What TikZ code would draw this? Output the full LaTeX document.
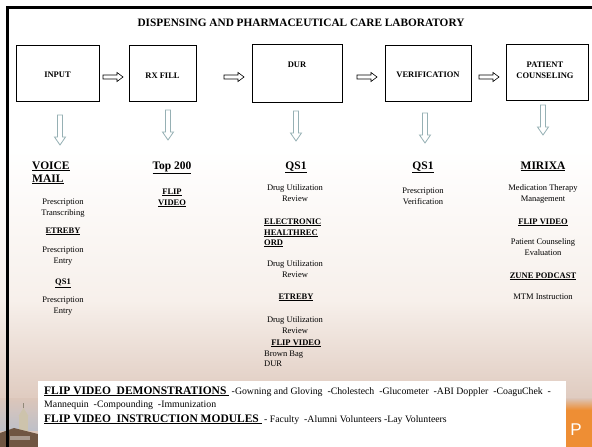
\documentclass[tikz,border=0pt]{standalone}
\usepackage{fontspec}
\setmainfont{Liberation Serif}
\newfontfamily\sansP{Liberation Sans}
\newcommand{\fsz}[1]{\fontsize{#1}{#1}\selectfont}
\definecolor{arrgray}{RGB}{150,176,180}
\definecolor{tanA}{RGB}{247,240,235}
\definecolor{tanB}{RGB}{220,198,186}
\definecolor{orng}{RGB}{238,142,52}
\definecolor{skyc}{RGB}{190,192,200}
\definecolor{towerc}{RGB}{205,195,172}
\definecolor{bldc}{RGB}{112,86,66}
\tikzset{
  boxnode/.style={draw=black, line width=0.8pt, fill=white, inner sep=0pt},
  lbl/.style={font=\fsz{8.5}\bfseries, anchor=base, inner sep=0pt},
  big/.style={font=\fsz{11.5}\bfseries, anchor=base, inner sep=0pt},
  sm/.style={font=\fsz{8.5}, anchor=base, inner sep=0pt},
  smb/.style={font=\fsz{8.5}\bfseries, anchor=base, inner sep=0pt},
  rarrow/.pic={\draw[black, line width=0.6pt, fill=white, line join=miter]
     (0,-2)--(14,-2)--(14,-4.5)--(20,0)--(14,4.5)--(14,2)--(0,2)--cycle;},
  darrow/.pic={\draw[arrgray, line width=0.8pt, fill=white, line join=miter]
     (-2.5,0)--(-2.5,22)--(-5.5,22)--(0,30)--(5.5,22)--(2.5,22)--(2.5,0)--cycle;}
}
\begin{document}
\begin{tikzpicture}[x=1pt,y=-1pt]
\useasboundingbox (0,0) rectangle (592,447);
% background
\fill[white] (0,0) rectangle (592,447);
\shade[top color=white, bottom color=tanA] (0,150) rectangle (592,300);
\shade[top color=tanA, bottom color=tanB] (0,300) rectangle (592,412);
\fill[tanB] (0,412) rectangle (592,447);
% orange strip right
\shade[top color=tanB, bottom color=orng] (566,398) rectangle (592,410);
\fill[orng] (566,410) rectangle (592,447);
\node[font=\sansP\fsz{17}, text=white, anchor=base, inner sep=0pt] (pletter) at (576,435) {P};
% photo left
\shade[top color=tanB, bottom color=skyc] (0,398) rectangle (38,430);
\fill[towerc] (19,432) rectangle (28,416);
\fill[towerc] (18.5,416) -- (23.5,408) -- (28.5,416) -- cycle;
\draw[towerc!70!black, line width=0.6pt] (23.5,408) -- (23.5,403);
\fill[bldc] (0,433) -- (14,428) -- (38,434) -- (38,447) -- (0,447) -- cycle;
\fill[bldc!60!white] (10,436) rectangle (30,440);
% white text box
\fill[white] (38,381) rectangle (566,447);
% frame
\draw[line width=3pt] (7,447) -- (7,7) -- (592,7);
% title
\node[font=\fsz{11.3}\bfseries, anchor=base, inner sep=0pt] (title) at (301,27) {DISPENSING AND PHARMACEUTICAL CARE LABORATORY};
% boxes
\node[boxnode, minimum width=83pt, minimum height=56pt] (input) at (57.5,73) {};
\node[boxnode, minimum width=67pt, minimum height=56pt] (rxfill) at (162.5,73) {};
\node[boxnode, minimum width=90pt, minimum height=58pt] (dur) at (297,73) {};
\node[boxnode, minimum width=86pt, minimum height=56pt] (verif) at (428,73) {};
\node[boxnode, minimum width=82pt, minimum height=56pt] (pat) at (547,72) {};
\node[lbl] (tinput) at (57.5,77) {INPUT};
\node[lbl] (trx) at (162.5,78) {RX FILL};
\node[lbl] (tdur) at (297,67) {DUR};
\node[lbl] (tver) at (428,77) {VERIFICATION};
\node[lbl] (tpat1) at (545,67) {PATIENT};
\node[lbl] (tpat2) at (545,78) {COUNSELING};
% right arrows
\pic at (103,77) {rarrow};
\pic at (224,77) {rarrow};
\pic at (357,77) {rarrow};
\pic at (479,77) {rarrow};
% down arrows
\pic at (60,115) {darrow};
\pic at (168,110) {darrow};
\pic at (296,111) {darrow};
\pic at (425,113) {darrow};
\pic at (543,105) {darrow};
% column 1
\node[big, anchor=base west] (c1h1) at (32,169) {\underline{VOICE}};
\node[big, anchor=base west] (c1h2) at (32,182) {\underline{MAIL}};
\node[sm] (c1a) at (63,204.5) {Prescription};
\node[sm] (c1b) at (63,215) {Transcribing};
\node[smb] (c1c) at (63,233) {\underline{ETREBY}};
\node[sm] (c1d) at (63,252.5) {Prescription};
\node[sm] (c1e) at (63,263.5) {Entry};
\node[smb] (c1f) at (63,284) {\underline{QS1}};
\node[sm] (c1g) at (63,302.5) {Prescription};
\node[sm] (c1h) at (63,313) {Entry};
% column 2
\node[big] (c2h) at (172,169) {\underline{Top 200}};
\node[smb] (c2a) at (172,194) {\underline{FLIP}};
\node[smb] (c2b) at (172,205) {\underline{VIDEO}};
% column 3
\node[big] (c3h) at (296,169) {\underline{QS1}};
\node[sm] (c3a) at (295,190.5) {Drug Utilization};
\node[sm] (c3b) at (295,201.5) {Review};
\node[smb, anchor=base west] (c3c) at (264,224) {\underline{ELECTRONIC}};
\node[smb, anchor=base west] (c3d) at (264,235) {\underline{HEALTHREC}};
\node[smb, anchor=base west] (c3e) at (264,245) {\underline{ORD}};
\node[sm] (c3f) at (295,266.5) {Drug Utilization};
\node[sm] (c3g) at (295,277.5) {Review};
\node[smb] (c3h2) at (296,299) {\underline{ETREBY}};
\node[sm] (c3i) at (295,322) {Drug Utilization};
\node[sm] (c3j) at (295,333) {Review};
\node[smb] (c3k) at (296,345) {\underline{FLIP VIDEO}};
\node[sm, anchor=base west] (c3l) at (264,356) {Brown Bag};
\node[sm, anchor=base west] (c3m) at (264,366) {DUR};
% column 4
\node[big] (c4h) at (423,169) {\underline{QS1}};
\node[sm] (c4a) at (423,193.5) {Prescription};
\node[sm] (c4b) at (423,204.5) {Verification};
% column 5
\node[big] (c5h) at (543,169) {\underline{MIRIXA}};
\node[sm] (c5a) at (543,190.5) {Medication Therapy};
\node[sm] (c5b) at (543,201.5) {Management};
\node[smb] (c5c) at (543,224) {\underline{FLIP VIDEO}};
\node[sm] (c5d) at (543,244.5) {Patient Counseling};
\node[sm] (c5e) at (543,255.5) {Evaluation};
\node[smb] (c5f) at (543,278) {\underline{ZUNE PODCAST}};
\node[sm] (c5g) at (543,299) {MTM Instruction};
% bottom text
\node[anchor=base west, inner sep=0pt] (b1) at (44,394) {{\fsz{11.5}\bfseries\underline{FLIP VIDEO\ \ DEMONSTRATIONS\ }}{\fsz{9.8}\ -Gowning and Gloving\ \ -Cholestech\ \ -Glucometer\ \ -ABI Doppler\ \ -CoaguChek\ \ -}};
\node[anchor=base west, inner sep=0pt, font=\fsz{9.8}] (b2) at (44,407.5) {Mannequin\ \ -Compounding\ \ -Immunization};
\node[anchor=base west, inner sep=0pt] (b3) at (44,422) {{\fsz{11.5}\bfseries\underline{FLIP VIDEO\ \ INSTRUCTION MODULES\ }}{\fsz{9.8}\ - Faculty\ \ -Alumni Volunteers -Lay Volunteers}};
\end{tikzpicture}
\end{document}
